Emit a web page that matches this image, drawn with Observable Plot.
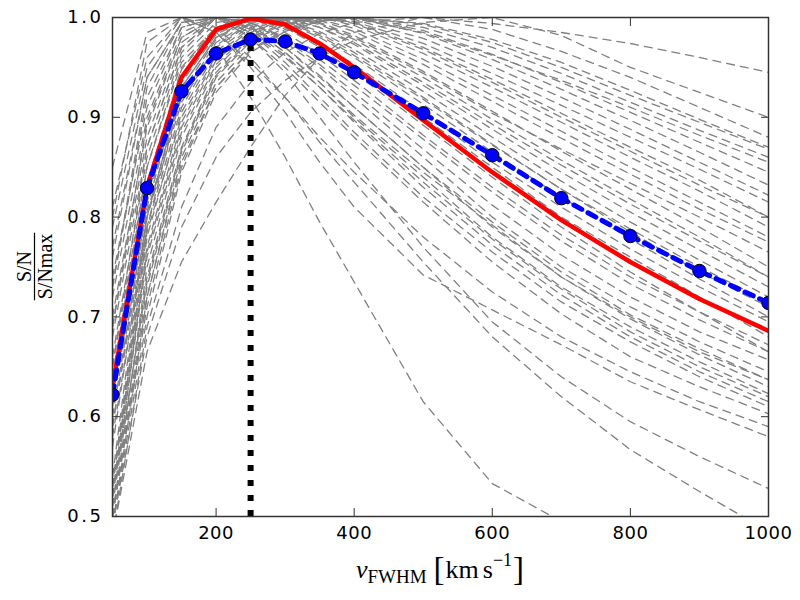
<!DOCTYPE html>
<html><head><meta charset="utf-8">
<script src="https://cdn.jsdelivr.net/npm/d3@7"></script>
<script src="https://cdn.jsdelivr.net/npm/@observablehq/plot@0.6"></script>
<style>body{margin:0;background:#fff} svg{display:block}</style>
</head><body><div id="chart"></div>
<script>
// velocity grid (km/s)
const vFWHM = [50,100,150,200,250,300,350,400,500,600,700,800,900,1000];
// mean curve (blue points)
const meanSN = [0.622,0.829,0.926,0.964,0.978,0.976,0.964,0.945,0.904,0.862,0.819,0.781,0.746,0.714];
// stacked curve (red)
const stackSN = [0.630,0.830,0.940,0.988,0.999,0.993,0.974,0.950,0.897,0.845,0.797,0.755,0.718,0.686];
// individual objects (gray dashed)
const g01 = [0.80,0.975,1.00,0.97,0.92,0.86,0.795,0.735,0.615,0.533,0.495,0.46,0.43,0.40];
const g02 = [0.81,0.96,1.00,0.99,0.96,0.92,0.875,0.835,0.755,0.68,0.62,0.567,0.525,0.485];
const g03 = [0.77,0.94,0.995,1.00,0.98,0.945,0.90,0.855,0.77,0.695,0.64,0.595,0.56,0.528];
const g04 = [0.79,0.95,1.00,0.985,0.95,0.905,0.855,0.81,0.742,0.707,0.672,0.635,0.607,0.58];
const g05 = [0.85,0.985,1.00,0.985,0.955,0.92,0.88,0.845,0.78,0.725,0.68,0.645,0.615,0.59];
const g06 = [0.73,0.93,0.995,1.00,0.985,0.955,0.92,0.885,0.82,0.765,0.715,0.675,0.64,0.61];
const g07 = [0.72,0.90,0.985,1.00,0.99,0.965,0.935,0.90,0.84,0.78,0.73,0.69,0.655,0.623];
const g08 = [0.70,0.89,0.98,1.00,0.99,0.97,0.94,0.91,0.85,0.79,0.74,0.70,0.665,0.637];
const g09 = [0.74,0.91,0.99,1.00,0.985,0.96,0.93,0.895,0.83,0.772,0.722,0.68,0.645,0.615];
const g10 = [0.68,0.87,0.97,1.00,0.995,0.975,0.95,0.92,0.86,0.80,0.75,0.71,0.675,0.645];
const g11 = [0.66,0.86,0.965,1.00,0.995,0.978,0.953,0.925,0.868,0.812,0.762,0.72,0.685,0.657];
const g12 = [0.69,0.88,0.975,1.00,0.995,0.98,0.958,0.932,0.878,0.825,0.776,0.733,0.697,0.665];
const g13 = [0.64,0.85,0.96,0.995,1.00,0.985,0.963,0.937,0.882,0.83,0.782,0.74,0.705,0.672];
const g14 = [0.62,0.83,0.95,0.99,1.00,0.99,0.972,0.95,0.90,0.85,0.80,0.76,0.72,0.68];
const g15 = [0.63,0.835,0.948,0.99,1.00,0.992,0.975,0.953,0.905,0.855,0.81,0.768,0.73,0.695];
const g16 = [0.61,0.82,0.94,0.985,1.00,0.995,0.98,0.96,0.913,0.865,0.82,0.778,0.738,0.70];
const g17 = [0.60,0.81,0.935,0.983,1.00,0.997,0.984,0.965,0.92,0.873,0.828,0.785,0.745,0.71];
const g18 = [0.65,0.85,0.955,0.99,1.00,0.99,0.97,0.945,0.892,0.84,0.79,0.745,0.705,0.665];
const g19 = [0.59,0.80,0.93,0.98,1.00,0.998,0.986,0.968,0.926,0.88,0.836,0.795,0.757,0.72];
const g20 = [0.58,0.79,0.925,0.978,0.998,1.00,0.99,0.973,0.932,0.888,0.845,0.805,0.767,0.73];
const g21 = [0.53,0.80,0.915,0.972,0.995,1.00,0.993,0.978,0.94,0.898,0.857,0.818,0.78,0.74];
const g22 = [0.52,0.79,0.91,0.97,0.994,1.00,0.995,0.982,0.946,0.906,0.866,0.828,0.79,0.75];
const g23 = [0.54,0.805,0.92,0.975,0.996,1.00,0.994,0.98,0.944,0.904,0.868,0.834,0.80,0.765];
const g24 = [0.52,0.78,0.905,0.966,0.992,1.00,0.997,0.986,0.953,0.916,0.879,0.843,0.808,0.775];
const g25 = [0.53,0.785,0.90,0.962,0.99,1.00,0.998,0.989,0.958,0.922,0.886,0.85,0.815,0.78];
const g26 = [0.51,0.77,0.895,0.96,0.988,0.999,1.00,0.992,0.964,0.93,0.895,0.86,0.826,0.79];
const g27 = [0.52,0.76,0.885,0.953,0.985,0.998,1.00,0.995,0.97,0.938,0.904,0.87,0.837,0.80];
const g28 = [0.50,0.75,0.88,0.95,0.983,0.997,1.00,0.996,0.974,0.944,0.912,0.88,0.848,0.815];
const g29 = [0.51,0.74,0.87,0.945,0.98,0.995,1.00,0.998,0.979,0.951,0.92,0.888,0.855,0.822];
const g30 = [0.50,0.73,0.865,0.94,0.976,0.993,0.999,1.00,0.984,0.958,0.928,0.897,0.865,0.832];
const g31 = [0.49,0.72,0.86,0.935,0.972,0.99,0.998,1.00,0.987,0.963,0.935,0.905,0.875,0.845];
const g32 = [0.52,0.735,0.868,0.942,0.978,0.994,1.00,0.999,0.985,0.962,0.937,0.91,0.882,0.855];
const g33 = [0.50,0.71,0.85,0.93,0.968,0.988,0.997,1.00,0.99,0.97,0.944,0.915,0.887,0.86];
const g34 = [0.49,0.70,0.845,0.925,0.965,0.986,0.996,1.00,0.993,0.975,0.95,0.922,0.895,0.868];
const g35 = [0.48,0.69,0.81,0.89,0.935,0.965,0.984,0.995,1.00,0.988,0.966,0.94,0.91,0.88];
const g36 = [0.49,0.68,0.79,0.86,0.905,0.937,0.96,0.977,0.995,1.00,0.982,0.95,0.925,0.90];
const g37 = [0.48,0.665,0.755,0.815,0.87,0.922,0.96,0.985,1.00,0.994,0.985,0.974,0.96,0.945];
const g38 = [0.50,0.72,0.855,0.93,0.967,0.986,0.996,1.00,0.994,0.978,0.955,0.927,0.898,0.87];
const g39 = [0.76,0.94,0.995,1.00,0.98,0.95,0.915,0.88,0.815,0.755,0.703,0.66,0.63,0.603];
const g40 = [0.73,0.92,0.99,1.00,0.988,0.962,0.93,0.897,0.835,0.778,0.728,0.685,0.65,0.62];
const g41 = [0.65,0.87,0.97,1.00,0.992,0.97,0.942,0.91,0.85,0.795,0.745,0.702,0.668,0.637];
const g42 = [0.69,0.895,0.98,1.00,0.99,0.965,0.935,0.902,0.845,0.792,0.74,0.698,0.662,0.63];
const g43 = [0.57,0.80,0.93,0.98,0.998,1.00,0.99,0.975,0.935,0.893,0.852,0.813,0.776,0.74];
const g44 = [0.59,0.815,0.94,0.985,1.00,0.996,0.982,0.962,0.918,0.872,0.828,0.788,0.75,0.715];
const g45 = [0.53,0.765,0.89,0.957,0.986,0.998,1.00,0.994,0.968,0.935,0.90,0.866,0.832,0.80];
const grayCurves = [g01,g02,g03,g04,g05,g06,g07,g08,g09,g10,g11,g12,g13,g14,g15,g16,g17,g18,g19,g20,
  g21,g22,g23,g24,g25,g26,g27,g28,g29,g30,g31,g32,g33,g34,g35,g36,g37,g38,g39,g40,g41,g42,g43,g44,g45];
const xTicks = [200,400,600,800,1000];
const yTicks = [0.5,0.6,0.7,0.8,0.9,1.0];

const toRows = vals => vFWHM.map((v, i) => ({v, s: vals[i]}));
const blueRows = toRows(meanSN);
const redRows = toRows(stackSN);
const peak = blueRows.reduce((a, b) => (b.s > a.s ? b : a));

const grayMarks = grayCurves.map(c => Plot.line(toRows(c), {
  x: "v", y: "s", stroke: "#808080", strokeWidth: 1.3, strokeDasharray: "8,6", clip: true
}));

const frameColor = "#333";
const chart = Plot.plot({
  width: 800, height: 600,
  marginLeft: 112, marginRight: 32, marginTop: 17, marginBottom: 84,
  style: {fontFamily: "DejaVu Sans", fontSize: "18px", background: "white", color: "black"},
  x: {domain: [50, 1000]},
  y: {domain: [0.5, 1.0]},
  marks: [
    ...grayMarks,
    Plot.line(redRows, {x: "v", y: "s", stroke: "#ff0000", strokeWidth: 4.5, clip: true}),
    Plot.ruleX([peak], {x: "v", y1: 0.5, y2: "s", stroke: "black", strokeWidth: 6, strokeDasharray: "6,9"}),
    Plot.line(blueRows, {x: "v", y: "s", stroke: "#0000ff", strokeWidth: 5, strokeDasharray: "9,7", clip: true}),
    Plot.dot(blueRows, {x: "v", y: "s", r: 6.7, fill: "#0000ff", stroke: "black", strokeWidth: 1, clip: true}),
    Plot.frame({stroke: frameColor, strokeWidth: 1.5}),
    // inward ticks on all four sides
    Plot.axisX({ticks: xTicks, anchor: "bottom", tickSize: 8, dy: -8, tickFormat: () => "", label: null, stroke: frameColor}),
    Plot.axisX({ticks: xTicks, anchor: "top", tickSize: 8, dy: 8, tickFormat: () => "", label: null, stroke: frameColor}),
    Plot.axisY({ticks: yTicks, anchor: "left", tickSize: 8, dx: 8, tickFormat: () => "", label: null, stroke: frameColor}),
    Plot.axisY({ticks: yTicks, anchor: "right", tickSize: 8, dx: -8, tickFormat: () => "", label: null, stroke: frameColor}),
    // tick labels
    Plot.axisX({ticks: xTicks, anchor: "bottom", tickSize: 0, tickPadding: 10, tickFormat: d3.format("d"), label: null, fontSize: 18}),
    Plot.axisY({ticks: yTicks, anchor: "left", tickSize: 0, tickPadding: 9, tickFormat: d3.format(".1f"), label: null, fontSize: 18})
  ]
});
document.getElementById("chart").append(chart);

const svg = d3.select(chart);
svg.selectAll('g[aria-label="y-axis tick label"] text').style("letter-spacing", "2.5px");
svg.selectAll('g[aria-label="x-axis tick label"] text').style("letter-spacing", "0.5px");

const [x0, x1] = chart.scale("x").range;
const [yb, yt] = chart.scale("y").range;
const cx = (x0 + x1) / 2, cy = (yb + yt) / 2;

// x-axis label: v_FWHM [km s^-1]
const xl = svg.append("text")
  .attr("x", cx).attr("y", yb + 62)
  .attr("text-anchor", "middle")
  .attr("font-family", "Liberation Serif").attr("font-size", 26).attr("fill", "black");
xl.append("tspan").attr("font-style", "italic").text("v");
xl.append("tspan").attr("font-size", 19).attr("dy", 5).text("FWHM");
xl.append("tspan").attr("font-size", 33).attr("dy", -3).attr("dx", 7).text("[");
xl.append("tspan").attr("dy", -2).attr("dx", 1).text("km");
xl.append("tspan").attr("dx", 4).text("s");
xl.append("tspan").attr("font-size", 18).attr("dy", -12).text("\u22121");
xl.append("tspan").attr("font-size", 33).attr("dy", 14).attr("dx", 1).text("]");

// y-axis label: fraction S/N over S/Nmax
const yl = svg.append("g")
  .attr("transform", `translate(${x0 - 112},${cy}) rotate(-90)`)
  .attr("font-family", "Liberation Serif").attr("font-size", 20)
  .attr("text-anchor", "middle").attr("fill", "black");
yl.append("text").attr("x", 0).attr("y", 31).text("S/N");
const den = yl.append("text").attr("x", 0).attr("y", 52).text("S/Nmax");
const len = den.node().getComputedTextLength();
yl.append("line").attr("x1", -len / 2 - 1).attr("x2", len / 2 + 1)
  .attr("y1", 34.5).attr("y2", 34.5).attr("stroke", "black").attr("stroke-width", 1.2);
</script>
</body></html>
